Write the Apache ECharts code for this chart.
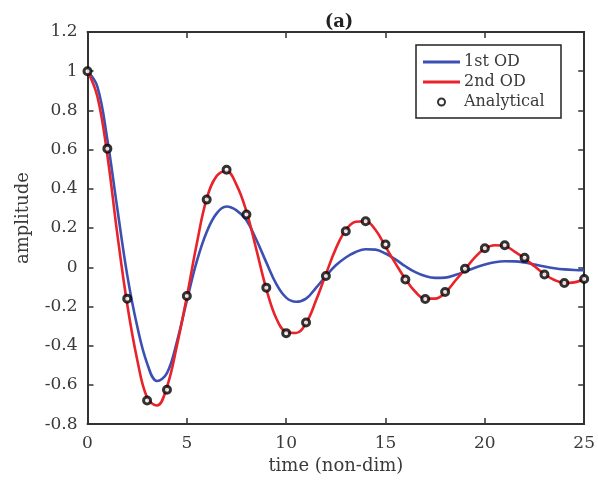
<!DOCTYPE html>
<html>
<head>
<meta charset="utf-8">
<script src="https://cdn.jsdelivr.net/npm/echarts@6/dist/echarts.min.js"></script>
<style>html,body{margin:0;padding:0;background:#fff}#c{width:598px;height:480px}</style>
</head>
<body>
<div id="c"></div>
<script>
// ---- data ----
var xTicks = [0, 5, 10, 15, 20, 25];
var yTicks = [-0.8, -0.6, -0.4, -0.2, 0, 0.2, 0.4, 0.6, 0.8, 1, 1.2];

// curve samples every 0.5 time units (t = 0 ... 25)
var curveT = [0, 0.5, 1, 1.5, 2, 2.5, 3, 3.5, 4, 4.5, 5, 5.5, 6, 6.5, 7, 7.5, 8, 8.5, 9, 9.5, 10, 10.5, 11, 11.5, 12, 12.5, 13, 13.5, 14, 14.5, 15, 15.5, 16, 16.5, 17, 17.5, 18, 18.5, 19, 19.5, 20, 20.5, 21, 21.5, 22, 22.5, 23, 23.5, 24, 24.5, 25];
var od1Y = [1.0, 0.92, 0.65, 0.30, -0.04, -0.30, -0.49, -0.58, -0.54, -0.38, -0.17, 0.03, 0.18, 0.275, 0.31, 0.29, 0.24, 0.14, 0.025, -0.085, -0.155, -0.176, -0.16, -0.105, -0.045, 0.01, 0.05, 0.078, 0.092, 0.09, 0.07, 0.04, 0.005, -0.025, -0.045, -0.054, -0.053, -0.04, -0.022, -0.002, 0.014, 0.026, 0.031, 0.03, 0.024, 0.014, 0.004, -0.005, -0.011, -0.014, -0.015];
var od2Y = [1.0, 0.87, 0.57, 0.17, -0.19, -0.47, -0.665, -0.705, -0.61, -0.40, -0.15, 0.12, 0.35, 0.465, 0.49, 0.42, 0.285, 0.09, -0.11, -0.26, -0.33, -0.335, -0.285, -0.17, -0.035, 0.095, 0.19, 0.232, 0.235, 0.19, 0.105, 0.02, -0.06, -0.125, -0.16, -0.16, -0.13, -0.07, -0.01, 0.05, 0.095, 0.112, 0.108, 0.08, 0.045, 0.005, -0.035, -0.065, -0.08, -0.077, -0.06];

var anaT = [0, 1, 2, 3, 4, 5, 6, 7, 8, 9, 10, 11, 12, 13, 14, 15, 16, 17, 18, 19, 20, 21, 22, 23, 24, 25];
var anaY = [1.0, 0.605, -0.16, -0.68, -0.625, -0.147, 0.345, 0.497, 0.269, -0.104, -0.336, -0.282, -0.045, 0.184, 0.235, 0.116, -0.062, -0.162, -0.126, -0.008, 0.097, 0.112, 0.048, -0.037, -0.08, -0.06];

var seriesNames = ['1st OD', '2nd OD', 'Analytical'];
var titleText = '(a)';
var xName = 'time (non-dim)';
var yName = 'amplitude';

function zip(a, b) { return a.map(function (v, i) { return [v, b[i]]; }); }

var FONT = 'DejaVu Serif';
var TXT = '#3a3a3a';
var AX = '#333333';
var BLUE = '#3c50b4';
var RED = '#e8232a';

var chart = echarts.init(document.getElementById('c'), null, { renderer: 'canvas' });

function fmt(v) { return String(Math.round(v * 10) / 10); }

var baseX = { type: 'value', min: xTicks[0], max: xTicks[xTicks.length - 1], interval: 5, splitLine: { show: false },
  axisLine: { show: true, onZero: false, lineStyle: { color: AX, width: 2 } },
  axisTick: { show: true, inside: true, length: 6, lineStyle: { color: AX, width: 1.5 } } };
var baseY = { type: 'value', min: yTicks[0], max: yTicks[yTicks.length - 1], interval: 0.2, splitLine: { show: false },
  axisLine: { show: true, onZero: false, lineStyle: { color: AX, width: 2 } },
  axisTick: { show: true, inside: true, length: 6, lineStyle: { color: AX, width: 1.5 } } };

var option = {
  animation: false,
  backgroundColor: '#ffffff',
  title: { text: titleText, left: 334, textAlign: 'center', top: 8,
    textStyle: { fontFamily: FONT, fontWeight: 'bold', fontSize: 18, color: '#222' } },
  grid: { left: 87.5, right: 12, top: 32, bottom: 55, containLabel: false },
  xAxis: [
    Object.assign({}, baseX, { position: 'bottom', name: xName, nameLocation: 'middle', nameGap: 31,
      nameTextStyle: { fontFamily: FONT, fontSize: 18, color: TXT },
      axisLabel: { show: true, margin: 11, fontFamily: FONT, fontSize: 17, color: TXT, formatter: fmt } }),
    Object.assign({}, baseX, { position: 'top', axisLabel: { show: false } })
  ],
  yAxis: [
    Object.assign({}, baseY, { position: 'left', name: yName, nameLocation: 'middle', nameGap: 55,
      nameTextStyle: { fontFamily: FONT, fontSize: 18, color: TXT, padding: [0, 0, 0, 20] },
      axisLabel: { show: true, margin: 10, fontFamily: FONT, fontSize: 17, color: TXT, formatter: fmt } }),
    Object.assign({}, baseY, { position: 'right', axisLabel: { show: false } })
  ],
  legend: [
    {
      left: 423, top: 53, orient: 'vertical', padding: 0, itemGap: 2,
      itemWidth: 37, itemHeight: 3, z: 10, icon: 'rect',
      textStyle: { fontFamily: FONT, fontSize: 16, color: TXT, lineHeight: 18, padding: [0, 0, 0, -1] },
      data: [seriesNames[0], seriesNames[1]]
    },
    {
      left: 437, top: 93, orient: 'vertical', padding: 0,
      itemWidth: 37, itemHeight: 7, z: 10,
      textStyle: { fontFamily: FONT, fontSize: 16, color: TXT, lineHeight: 18, padding: [0, 0, 0, -1] },
      data: [seriesNames[2]]
    }
  ],
  graphic: [{
    type: 'rect', z: 3, shape: { x: 416, y: 45, width: 145, height: 73 },
    style: { fill: '#fff', stroke: '#222', lineWidth: 1.5 }
  }],
  series: [
    { name: seriesNames[0], type: 'line', smooth: 0.4, symbol: 'none', data: zip(curveT, od1Y),
      lineStyle: { color: BLUE, width: 2.6 }, itemStyle: { color: BLUE }, z: 2 },
    { name: seriesNames[1], type: 'line', smooth: 0.4, symbol: 'none', data: zip(curveT, od2Y),
      lineStyle: { color: RED, width: 2.6 }, itemStyle: { color: RED }, z: 3 },
    { name: seriesNames[2], type: 'scatter', symbol: 'circle', symbolSize: 7, data: zip(anaT, anaY),
      itemStyle: { color: '#ffffff', borderColor: '#000000', borderWidth: 3 }, z: 4 }
  ]
};
chart.setOption(option);
</script>
</body>
</html>
